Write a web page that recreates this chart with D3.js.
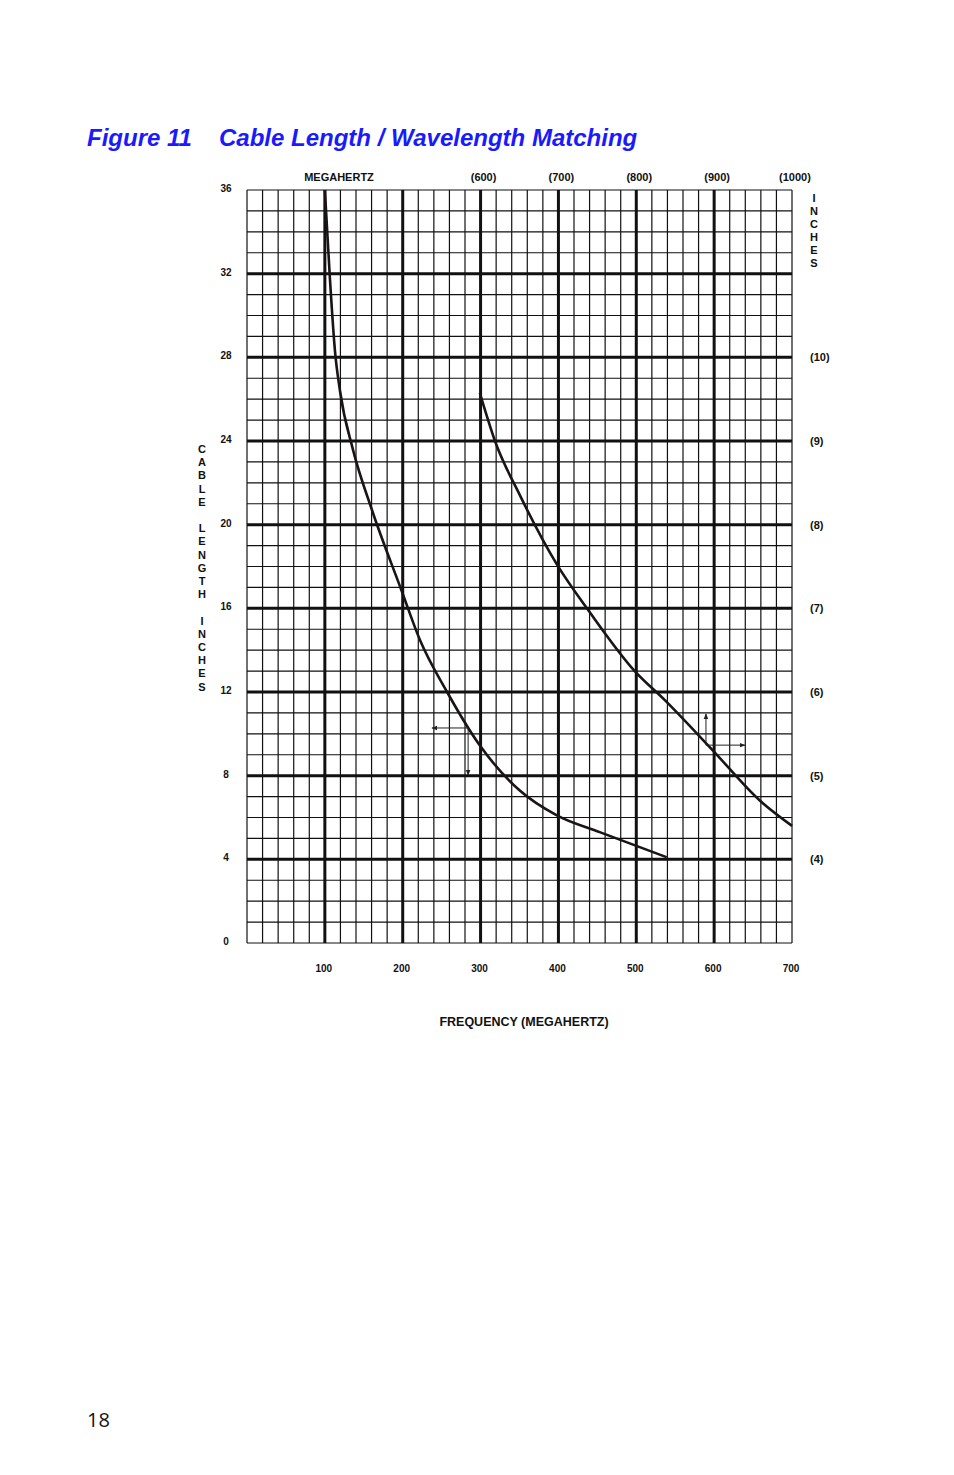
<!DOCTYPE html>
<html>
<head>
<meta charset="utf-8">
<script src="https://cdn.jsdelivr.net/npm/d3@7"></script>
<style>
  body { margin: 0; background: #fff; }
  text { font-family: "Liberation Sans", Arial, sans-serif; }
</style>
</head>
<body>
<svg id="chart" width="954" height="1475"></svg>
<script>
// Chart values
const yTicks = [0, 4, 8, 12, 16, 20, 24, 28, 32, 36];
const xTicks = [100, 200, 300, 400, 500, 600, 700];
const topLabels = ["(600)", "(700)", "(800)", "(900)", "(1000)"];
const topLabelX = [300, 400, 500, 600, 700];
const rightLabels = ["(10)", "(9)", "(8)", "(7)", "(6)", "(5)", "(4)"];
const rightLabelY = [28, 24, 20, 16, 12, 8, 4];

// frequency (MHz), length (inches)
const curveLow = [[100, 36], [106.6, 31.7], [113, 28.3], [119.4, 26.4], [136, 23.6], [160.5, 20.7],
  [198, 16.9], [222, 14.5], [257, 12], [298, 9.5], [350, 7.3], [398, 6.1], [453, 5.3], [539, 4.1]];
const curveHigh = [[299, 26.3], [318.5, 24.0], [350.6, 21.4], [398, 18.1], [440.5, 15.8], [498, 13.0],
  [537, 11.6], [598.5, 9.2], [659, 6.8], [700, 5.6]];

// example arrows: [from, to]
const arrows = [
  [[284, 10.28], [237.6, 10.28]],
  [[284, 10.28], [284, 8.03]],
  [[589.5, 9.46], [589.5, 10.95]],
  [[589.5, 9.46], [639.6, 9.46]]
];

const svg = d3.select("#chart");
const x = d3.scaleLinear().domain([0, 700]).range([247, 792]);
const y = d3.scaleLinear().domain([0, 36]).range([943, 190]);

svg.append("defs").append("marker")
  .attr("id", "ah").attr("viewBox", "0 0 10 10").attr("refX", 9).attr("refY", 5)
  .attr("markerWidth", 6).attr("markerHeight", 6).attr("orient", "auto")
  .append("path").attr("d", "M0,1L10,5L0,9Z").attr("fill", "#222");

// Title
const title = svg.append("text").attr("x", 87).attr("y", 146)
  .attr("font-size", 24).attr("font-weight", "bold").attr("font-style", "italic")
  .attr("fill", "#1a1aff").style("font-family", "Liberation Sans, Arial");
title.append("tspan").text("Figure 11");
title.append("tspan").attr("x", 219).text("Cable Length / Wavelength Matching");

// Grid
const grid = svg.append("g");
d3.range(0, 701, 20).forEach(v => {
  const major = v % 100 === 0 && v > 0 && v < 700;
  grid.append("line").attr("x1", x(v)).attr("x2", x(v)).attr("y1", y(0)).attr("y2", y(36))
    .attr("stroke", "#111").attr("stroke-width", major ? 3 : 1.2);
});
d3.range(0, 37, 1).forEach(v => {
  const major = v % 4 === 0 && v > 0 && v < 36;
  grid.append("line").attr("x1", x(0)).attr("x2", x(700)).attr("y1", y(v)).attr("y2", y(v))
    .attr("stroke", "#111").attr("stroke-width", major ? 3 : 1.2);
});

// Curves
const line = d3.line().x(d => x(d[0])).y(d => y(d[1])).curve(d3.curveMonotoneX);
[curveLow, curveHigh].forEach(c => {
  svg.append("path").attr("d", line(c)).attr("fill", "none")
    .attr("stroke", "#1a1414").attr("stroke-width", 2.6);
});

// Arrows
arrows.forEach(a => {
  svg.append("line").attr("x1", x(a[0][0])).attr("y1", y(a[0][1]))
    .attr("x2", x(a[1][0])).attr("y2", y(a[1][1]))
    .attr("stroke", "#222").attr("stroke-width", 1).attr("marker-end", "url(#ah)");
});

// Tick labels
const lab = (sel) => sel.attr("font-size", 10).attr("font-weight", "bold")
  .style("font-family", "Liberation Sans Narrow, Liberation Sans, Arial").attr("fill", "#111");
yTicks.forEach(v => {
  lab(svg.append("text")).attr("x", 226).attr("y", y(v) + 2).attr("text-anchor", "middle").text(v);
});
xTicks.forEach(v => {
  lab(svg.append("text")).attr("x", x(v) - 1).attr("y", 972).attr("text-anchor", "middle").text(v);
});
topLabels.forEach((t, i) => {
  lab(svg.append("text")).attr("x", x(topLabelX[i]) + 3).attr("y", 181).attr("font-size", 11)
    .style("font-family", "Liberation Sans, Arial").attr("text-anchor", "middle").text(t);
});
lab(svg.append("text")).attr("x", 339).attr("y", 181).attr("font-size", 11)
  .style("font-family", "Liberation Sans, Arial").attr("text-anchor", "middle").text("MEGAHERTZ");
rightLabels.forEach((t, i) => {
  lab(svg.append("text")).attr("x", 810).attr("y", y(rightLabelY[i]) + 4).attr("font-size", 11)
    .style("font-family", "Liberation Sans, Arial").text(t);
});

// Stacked vertical labels
function stacked(str, cx, y0, step) {
  str.split("").forEach((ch, i) => {
    lab(svg.append("text")).attr("x", cx).attr("y", y0 + i * step).attr("font-size", 11)
      .style("font-family", "Liberation Sans, Arial").attr("text-anchor", "middle").text(ch);
  });
}
stacked("CABLE LENGTH INCHES", 202, 453, 13.2);
stacked("INCHES", 814, 202, 13);

lab(svg.append("text")).attr("x", 524).attr("y", 1026).attr("font-size", 12.5)
  .style("font-family", "Liberation Sans, Arial").attr("text-anchor", "middle").text("FREQUENCY (MEGAHERTZ)");

svg.append("text").attr("x", 87).attr("y", 1427).attr("font-size", 20)
  .style("font-family", "Open Sans, DejaVu Sans").attr("fill", "#111").text("18");
</script>
</body>
</html>
